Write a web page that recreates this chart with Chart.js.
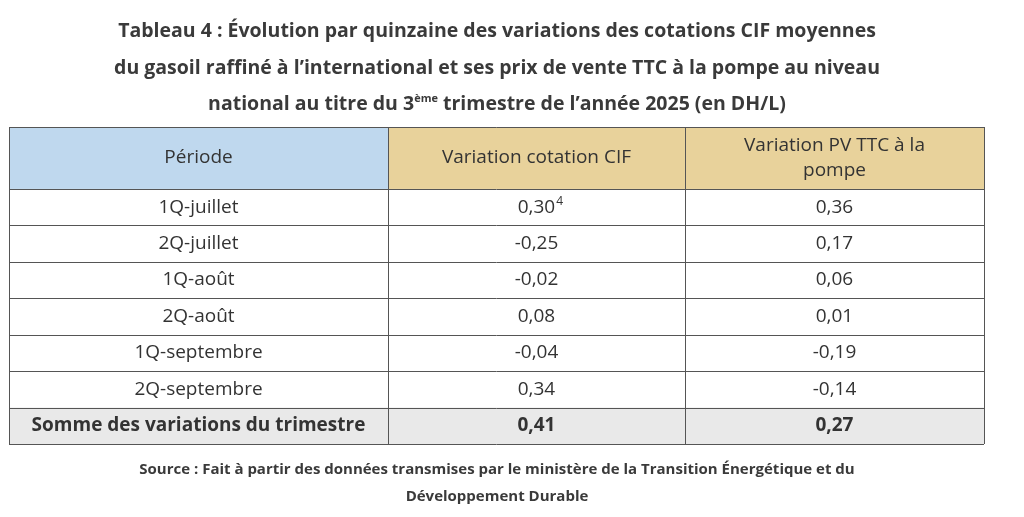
<!DOCTYPE html>
<html>
<head>
<meta charset="utf-8">
<script src="https://cdn.jsdelivr.net/npm/chart.js@4.4.1/dist/chart.umd.min.js"></script>
<style>
  body { margin: 0; background: #fff; font-family: "Open Sans", sans-serif; }
  #wrap { position: relative; width: 1024px; height: 517px; }
  .title { position: absolute; left: 0; top: 12px; width: 994px; text-align: center;
           font-weight: bold; font-size: 19.5px; line-height: 36.5px; color: #3a3a3a; }
  .title sup { font-size: 11px; vertical-align: 8px; line-height: 0; }
  .source { position: absolute; left: 0; top: 455px; width: 994px; text-align: center;
            font-weight: bold; font-size: 15px; line-height: 27px; color: #3a3a3a; }
  canvas { position: absolute; left: 0; top: 0; }
</style>
</head>
<body>
<div id="wrap">
  <canvas id="tableChart" width="1024" height="517"></canvas>
  <div class="title">Tableau 4 : Évolution par quinzaine des variations des cotations CIF moyennes<br>du gasoil raffiné à l’international et ses prix de vente TTC à la pompe au niveau<br>national au titre du 3<sup>ème</sup> trimestre de l’année 2025 (en DH/L)</div>
  <div class="source">Source : Fait à partir des données transmises par le ministère de la Transition Énergétique et du<br>Développement Durable</div>
</div>
<script>
const headers = ["Période", "Variation cotation CIF", ["Variation PV TTC à la", "pompe"]];
const periods = ["1Q-juillet", "2Q-juillet", "1Q-août", "2Q-août", "1Q-septembre", "2Q-septembre"];
const cifValues = [0.30, -0.25, -0.02, 0.08, -0.04, 0.34];
const pvValues = [0.36, 0.17, 0.06, 0.01, -0.19, -0.14];
const totalLabel = "Somme des variations du trimestre";
const cifTotal = 0.41;
const pvTotal = 0.27;
const cifNotes = ["4", "", "", "", "", ""];

const fmt = (v) => v.toFixed(2).replace(".", ",");

// column edges (fraction of width) and header height in row units
const colEdges = [0, 0.3887, 0.6933, 1];
const headerRows = 1.7;
const rowCount = periods.length + 1;

const tablePlugin = {
  id: "tablePlugin",
  afterDraw(chart) {
    const ctx = chart.ctx;
    const xs = chart.scales.x, ys = chart.scales.y;
    const X = (i) => xs.getPixelForValue(colEdges[i]);
    const Y = (r) => ys.getPixelForValue(r);
    const yMax = headerRows + rowCount;
    ctx.save();
    // header backgrounds
    const headBg = ["#bfd8ee", "#e8d29b", "#e8d29b"];
    for (let c = 0; c < 3; c++) {
      ctx.fillStyle = headBg[c];
      ctx.fillRect(X(c), Y(yMax), X(c + 1) - X(c), Y(yMax - headerRows) - Y(yMax));
    }
    // total row background
    ctx.fillStyle = "#e9e9e9";
    ctx.fillRect(X(0), Y(1), X(3) - X(0), Y(0) - Y(1));

    ctx.textAlign = "center";
    ctx.textBaseline = "middle";
    ctx.fillStyle = "#333";
    // header text
    ctx.font = "19px 'Open Sans'";
    headers.forEach((h, c) => {
      const cx = (X(c) + X(c + 1)) / 2;
      const cy = (Y(yMax) + Y(yMax - headerRows)) / 2;
      if (Array.isArray(h)) {
        ctx.fillText(h[0], cx, cy - 12);
        ctx.fillText(h[1], cx, cy + 13);
      } else ctx.fillText(h, cx, cy);
    });
    // body rows
    const drawRow = (r, cells, bold, notes) => {
      const top = yMax - headerRows - r;
      const cy = (Y(top) + Y(top - 1)) / 2;
      ctx.font = (bold ? "bold " : "") + "19px 'Open Sans'";
      cells.forEach((t, c) => {
        const cx = (X(c) + X(c + 1)) / 2;
        ctx.fillText(t, cx, cy);
        if (notes && notes[c]) {
          const w = ctx.measureText(t).width;
          ctx.save();
          ctx.font = "12px 'Open Sans'";
          ctx.textAlign = "left";
          ctx.fillText(notes[c], cx + w / 2 + 1, cy - 6);
          ctx.restore();
        }
      });
    };
    periods.forEach((p, i) => drawRow(i, [p, fmt(cifValues[i]), fmt(pvValues[i])], false, ["", cifNotes[i], ""]));
    drawRow(periods.length, [totalLabel, fmt(cifTotal), fmt(pvTotal)], true);

    // grid lines
    ctx.strokeStyle = "#555";
    ctx.lineWidth = 1;
    ctx.beginPath();
    for (let c = 0; c <= 3; c++) {
      const x = Math.round(X(c)) + 0.5;
      ctx.moveTo(x, Y(yMax)); ctx.lineTo(x, Y(0));
    }
    const hLines = [yMax];
    for (let r = rowCount; r >= 0; r--) hLines.push(r);
    hLines.forEach((r) => {
      const y = Math.round(Y(r)) + 0.5;
      ctx.moveTo(X(0), y); ctx.lineTo(X(3), y);
    });
    ctx.stroke();
    ctx.restore();
  }
};

new Chart(document.getElementById("tableChart").getContext("2d"), {
  type: "scatter",
  data: { datasets: [] },
  options: {
    responsive: false,
    animation: false,
    layout: { padding: { left: 9, top: 127, right: 40, bottom: 73 } },
    plugins: { legend: { display: false }, tooltip: { enabled: false } },
    scales: {
      x: { type: "linear", min: 0, max: 1, display: false },
      y: { type: "linear", min: 0, max: headerRows + rowCount, display: false }
    }
  },
  plugins: [tablePlugin]
});
</script>
</body>
</html>
